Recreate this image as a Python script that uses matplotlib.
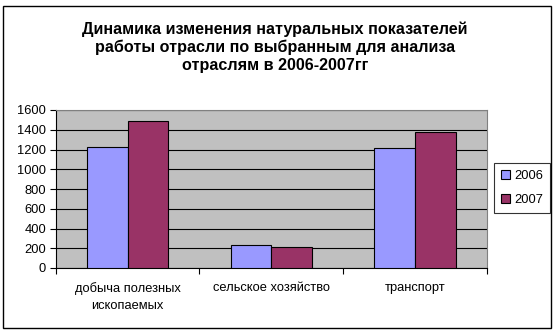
import matplotlib.pyplot as plt
import numpy as np
from matplotlib.patches import Rectangle

categories = ["добыча полезных\nископаемых", "сельское хозяйство", "транспорт"]
years = ["2006", "2007"]
values_2006 = [1230, 230, 1220]
values_2007 = [1490, 210, 1375]
y_ticks = [0, 200, 400, 600, 800, 1000, 1200, 1400, 1600]

plt.rcParams["font.family"] = ["Liberation Sans", "DejaVu Sans"]

W, H = 556, 332
fig = plt.figure(figsize=(W / 100, H / 100), dpi=100)
fig.patches.append(Rectangle((3 / W, 4 / H), 548 / W, 322 / H, transform=fig.transFigure,
                             fill=False, edgecolor="black", linewidth=1))

left, right, top, bottom = 55.7, 487, 110, 268
ax = fig.add_axes([left / W, 1 - bottom / H, (right - left) / W, (bottom - top) / H])
ax.set_facecolor("#C0C0C0")

x = np.arange(len(categories))
width = 0.283
ax.bar(x - width / 2, values_2006, width, color="#9999FF", edgecolor="black", linewidth=0.8,
       label=years[0], zorder=3)
ax.bar(x + width / 2, values_2007, width, color="#993366", edgecolor="black", linewidth=0.8,
       label=years[1], zorder=3)

ax.set_xlim(-0.5, len(categories) - 0.5)
ax.set_ylim(0, 1600)
ax.set_yticks(y_ticks)
ax.set_yticklabels([str(v) for v in y_ticks], fontsize=9.3)
ax.yaxis.grid(True, color="black", linewidth=0.8, zorder=1)
ax.set_axisbelow(True)

ax.set_xticks(np.arange(len(categories) + 1) - 0.5)
ax.set_xticklabels([])
ax.set_xticks(x, minor=True)
ax.set_xticklabels(categories, minor=True, fontsize=9.3, linespacing=1.6)
ax.tick_params(axis="x", which="minor", length=0, pad=10)
ax.tick_params(axis="x", which="major", length=4, width=0.8, direction="out")
ax.tick_params(axis="y", length=4, width=0.8, direction="out", pad=3)

for side in ["top", "right"]:
    ax.spines[side].set_color("#808080")
ax.spines["left"].set_color("black")
ax.spines["bottom"].set_color("black")

fig.text(275 / W, 1 - 47 / H,
         "Динамика изменения натуральных показателей\nработы отрасли по выбранным для анализа\nотраслям в 2006-2007гг",
         ha="center", va="center", fontsize=11.6, fontweight="bold", linespacing=1.22)

leg = fig.legend(loc="center", bbox_to_anchor=(522 / W, 1 - 188 / H), fontsize=9.3,
                 frameon=True, fancybox=False, edgecolor="black", handlelength=0.7,
                 handleheight=0.7, handletextpad=0.3, borderpad=0.55, labelspacing=0.9)
leg.get_frame().set_linewidth(0.8)

fig.savefig("out.png", dpi=100)
